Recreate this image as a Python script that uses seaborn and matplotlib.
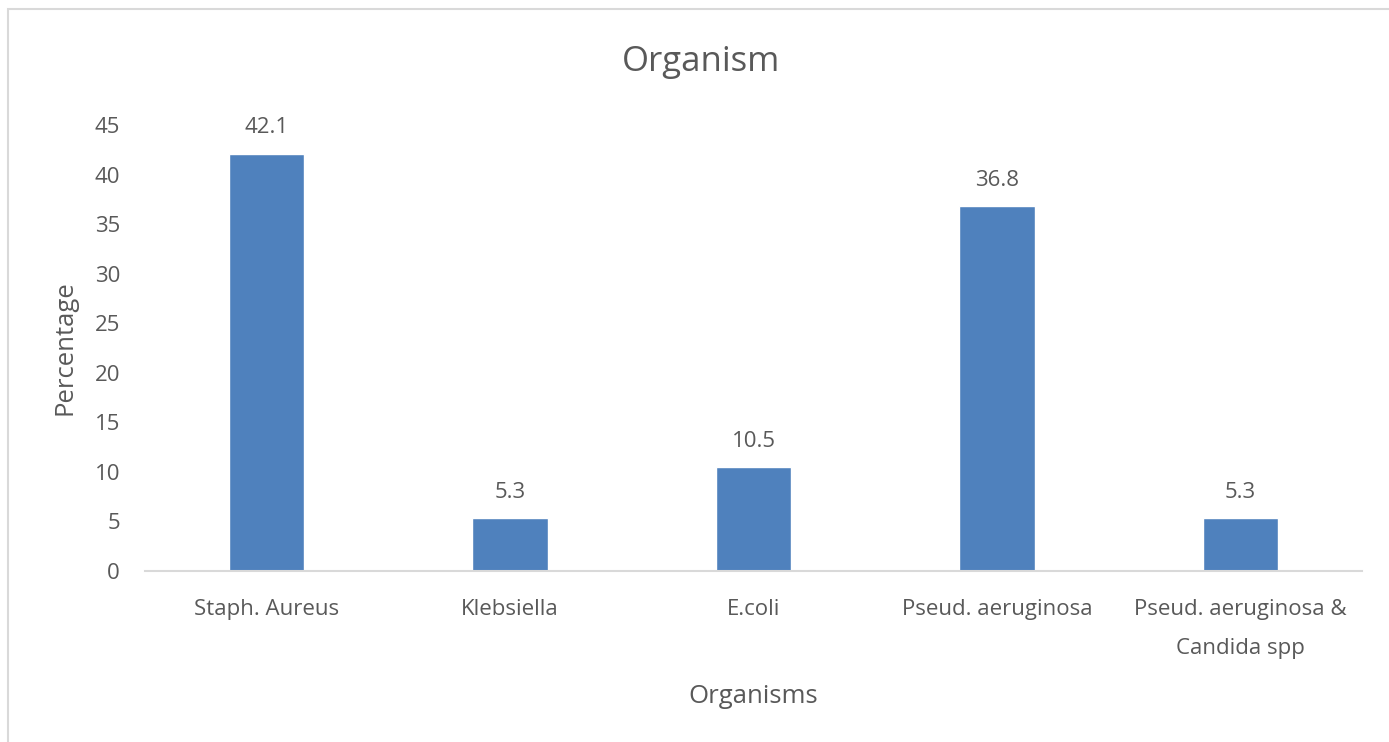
import matplotlib
matplotlib.use("Agg")
import matplotlib.pyplot as plt
import seaborn as sns
import pandas as pd
from matplotlib.patches import Rectangle

organisms = ["Staph. Aureus", "Klebsiella", "E.coli", "Pseud. aeruginosa",
             "Pseud. aeruginosa &\nCandida spp"]
percentages = [42.1, 5.3, 10.5, 36.8, 5.3]
y_ticks = [0, 5, 10, 15, 20, 25, 30, 35, 40, 45]

df = pd.DataFrame({"Organisms": organisms, "Percentage": percentages})

sns.set_style("white")
plt.rcParams["font.family"] = ["Open Sans", "DejaVu Sans"]

text_col = "#595959"
fig = plt.figure(figsize=(13.89, 7.42), dpi=100)
ax = fig.add_axes([145 / 1389, 1 - 571 / 742, 1217 / 1389, 446 / 742])

sns.barplot(data=df, x="Organisms", y="Percentage", color="#4F81BD",
            width=0.31, saturation=1, ax=ax)

for i, v in enumerate(percentages):
    ax.annotate(f"{v}", (i, v), xytext=(0, 11), textcoords="offset points",
                ha="center", va="bottom", fontsize=16, color=text_col)

ax.set_ylim(0, 45)
ax.set_yticks(y_ticks)
ax.set_xlim(-0.5, 4.5)
ax.tick_params(axis="both", length=0, labelsize=16, labelcolor=text_col)
ax.tick_params(axis="y", pad=18)
ax.tick_params(axis="x", pad=20)
for lbl in ax.get_xticklabels():
    lbl.set_linespacing(2.15)
for s in ["top", "right", "left"]:
    ax.spines[s].set_visible(False)
ax.spines["bottom"].set_color("#D9D9D9")
ax.spines["bottom"].set_linewidth(1.5)

ax.set_xlabel("Organisms", fontsize=18.5, color=text_col, labelpad=18)
ax.set_ylabel("Percentage", fontsize=18.5, color=text_col, labelpad=12)
fig.text(701 / 1389, 1 - 62 / 742, "Organism", ha="center", va="center",
         fontsize=25, color=text_col)

# outer chart border
fig.patches.append(Rectangle((8 / 1389, -0.02), 1.0, 1 - 9 / 742 + 0.02,
                             transform=fig.transFigure, fill=False,
                             edgecolor="#D9D9D9", linewidth=1.5))

fig.savefig("out.png", dpi=100)
